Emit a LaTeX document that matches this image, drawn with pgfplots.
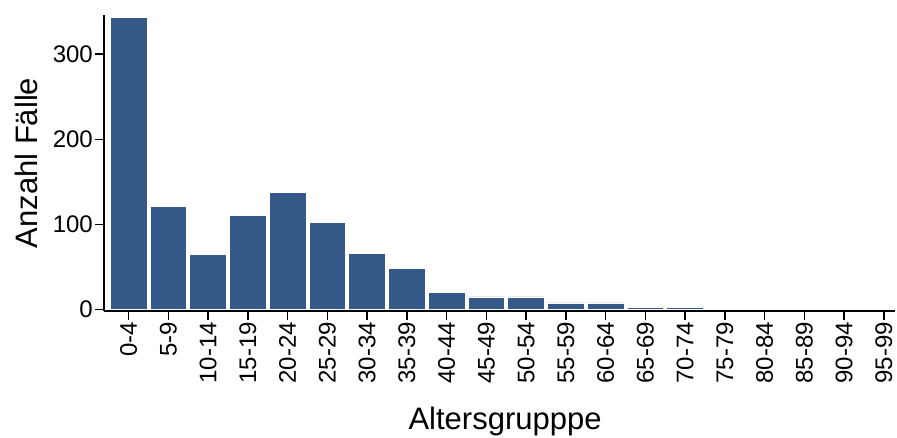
\documentclass[border=0pt]{standalone}
\usepackage{fontspec}
\setmainfont{Liberation Sans}
\usepackage{pgfplots}
\pgfplotsset{compat=1.18}
\definecolor{barblue}{RGB}{53,90,138}
\begin{document}
\begin{tikzpicture}[x=1pt,y=1pt]
\path[use as bounding box] (0,0) rectangle (897,437);
\begin{axis}[
  at={(104pt,126pt)}, anchor=south west,
  scale only axis, width=791pt, height=296pt,
  xmin=-0.62, xmax=19.28, ymin=-1.5, ymax=345.8,
  axis x line*=bottom, axis y line*=left,
  axis line style={line width=1.3pt, black},
  tick style={line width=1.3pt, black},
  tick align=outside, major tick length=9pt,
  xtick={0,...,19},
  xticklabels={0-4,5-9,10-14,15-19,20-24,25-29,30-34,35-39,40-44,45-49,50-54,55-59,60-64,65-69,70-74,75-79,80-84,85-89,90-94,95-99},
  ytick={0,100,200,300},
  /pgf/number format/assume math mode=true,
  x tick label style={rotate=90, anchor=east, font=\fontsize{24}{24}\selectfont, inner sep=2pt},
  y tick label style={font=\fontsize{24}{24}\selectfont, inner sep=2pt},
  xlabel={Altersgrupppe},
  ylabel={Anzahl Fälle},
  xlabel style={at={(axis description cs:0.507,-0.402)}, anchor=base, font=\fontsize{31}{31}\selectfont},
  ylabel style={at={(axis description cs:-0.098,0.5)}, anchor=center, rotate=0, font=\fontsize{31}{31}\selectfont},
  clip=false,
]
\addplot[ybar, bar width=0.92, fill=barblue, draw=white, line width=0.8pt, bar shift=0pt]
coordinates {
(0,343) (1,121) (2,64.5) (3,111) (4,137.5) (5,102) (6,66.5) (7,48)
(8,20) (9,15) (10,15) (11,8) (12,8) (13,3) (14,3)
};
\end{axis}
\end{tikzpicture}
\end{document}
